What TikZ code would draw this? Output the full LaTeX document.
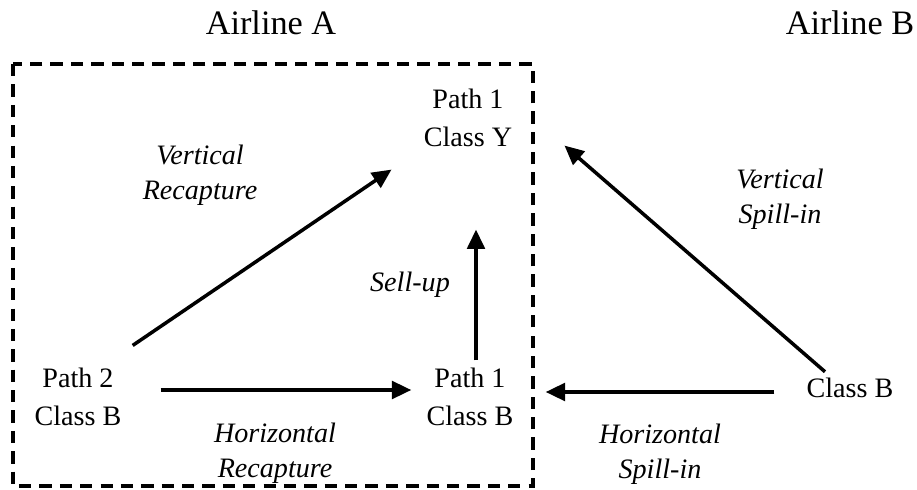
\documentclass[tikz,border=0pt]{standalone}
\usepackage{fontspec}
\setmainfont{Liberation Serif}
\usetikzlibrary{arrows.meta,positioning,calc}

\tikzset{
  fare/.style={align=center, inner sep=0pt, font=\fontsize{16}{22}\selectfont},
  airline/.style={inner sep=0pt, font=\fontsize{19.5}{22}\selectfont},
  flowlbl/.style={align=center, inner sep=0pt, font=\fontsize{16}{20}\selectfont\itshape},
  flow/.style={line width=2pt, -{Triangle[length=11pt, width=10pt]}},
  market/.style={line width=2.2pt, dash pattern=on 7pt off 4.6pt}
}

\begin{document}
\begin{tikzpicture}[x=0.02cm, y=-0.02cm]
  \useasboundingbox (0,0) rectangle (917,490);

  % airline market of A
  \draw[market] (13,64) rectangle (533,486);

  \node[airline] (airA) at (271,23) {Airline A};
  \node[airline] (airB) at (850,23) {Airline B};

  % fare products
  \node[fare] (p1y) at (468,118) {Path 1\\Class Y};
  \node[fare] (p2b) at (78,397) {Path 2\\Class B};
  \node[fare] (p1b) at (470,397) {Path 1\\Class B};
  \node[fare] (cb)  at (850,388) {Class B};

  % Arrows
  \draw[flow] ($(p2b.north east)+(11,-22)$) -- ($(p1y.south west)+(-32,22)$);
  \draw[flow] ($(p1b.north)+(6,-7)$) -- ($(p1y.south)+(8,82)$);
  \draw[flow] ($(p2b.east)+(39,-7)$) -- ($(p1b.west)+(-15,-7)$);
  \draw[flow] ($(cb.west)+(-32,4)$) -- ($(p1b.east)+(32,-5)$);
  \draw[flow] ($(cb.north)+(-25,-6)$) -- ($(p1y.south east)+(52,-2)$);

  \node[flowlbl] (vrec) at (200,175) {Vertical\\Recapture};
  \node[flowlbl] (sell) at (410,285) {Sell-up};
  \node[flowlbl] (hrec) at (275,453) {Horizontal\\Recapture};
  \node[flowlbl] (vsp)  at (780,199) {Vertical\\Spill-in};
  \node[flowlbl] (hsp)  at (660,454) {Horizontal\\Spill-in};
\end{tikzpicture}
\end{document}
